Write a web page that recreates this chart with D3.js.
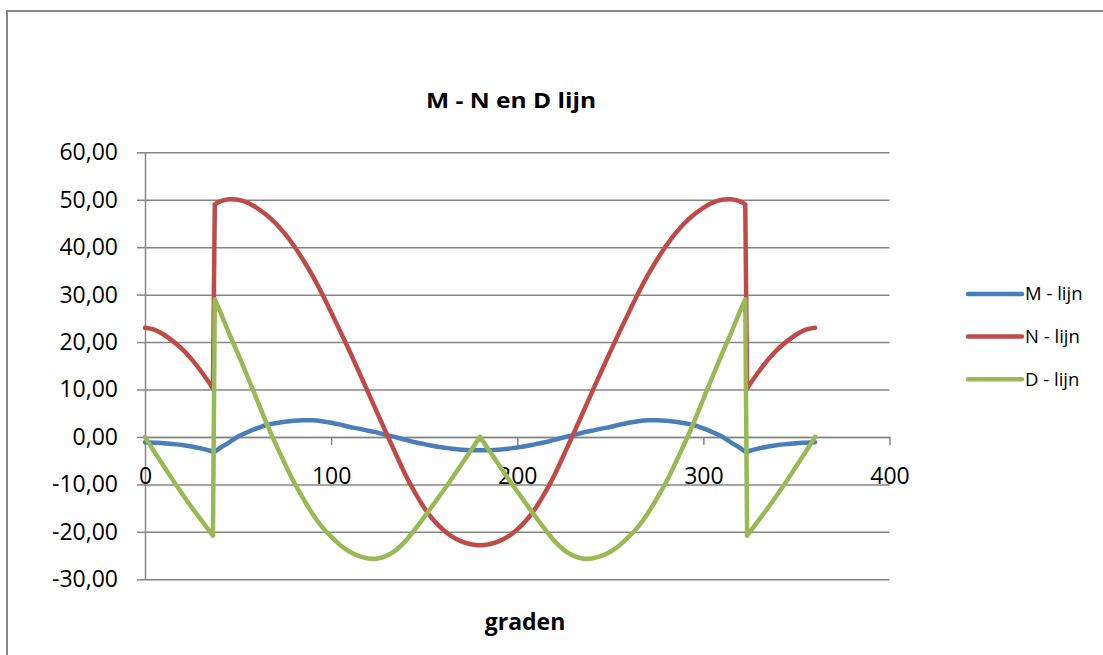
<!DOCTYPE html>
<html>
<head>
<meta charset="utf-8">
<script src="https://cdn.jsdelivr.net/npm/d3@7"></script>
<style>
  body { margin: 0; background: #fff; }
  text { font-family: "Open Sans", "Liberation Sans", sans-serif; fill: #000; }
</style>
</head>
<body>
<script>
// degrees along the ring (x values)
var graden = [0, 5, 10, 15, 20, 25, 30, 35, 36.5, 37.5, 40, 45, 50, 55, 60, 65, 70, 75, 80, 85, 90,
  95, 100, 105, 110, 115, 120, 125, 130, 135, 140, 145, 150, 155, 160, 165, 170, 175, 180,
  185, 190, 195, 200, 205, 210, 215, 220, 225, 230, 235, 240, 245, 250, 255, 260, 265, 270,
  275, 280, 285, 290, 295, 300, 305, 310, 315, 320, 322.5, 323.5, 325, 330, 335, 340, 345, 350, 355, 360];

var mLijn = [-1.1, -1.2, -1.3, -1.5, -1.7, -2.0, -2.4, -2.9, -3.1, -3.1, -2.4, -1.2, 0.1, 1.0, 1.8, 2.5, 2.9, 3.2, 3.4, 3.5, 3.5,
  3.3, 3.0, 2.6, 2.1, 1.75, 1.3, 0.9, 0.4, -0.1, -0.6, -1.1, -1.5, -1.9, -2.2, -2.5, -2.7, -2.8, -2.8,
  -2.8, -2.7, -2.5, -2.2, -1.9, -1.5, -1.1, -0.6, -0.1, 0.4, 0.9, 1.3, 1.75, 2.1, 2.6, 3.0, 3.3, 3.5,
  3.5, 3.4, 3.2, 2.9, 2.5, 1.8, 1.0, 0.1, -1.2, -2.4, -3.1, -3.1, -2.9, -2.4, -2.0, -1.7, -1.5, -1.3, -1.2, -1.1];

var nLijn = [23.0, 22.6, 21.6, 20.2, 18.5, 16.4, 13.9, 11.1, 10.2, 49.0, 49.6, 50.1, 50.0, 49.4, 48.3, 46.9, 45.1, 42.9, 40.3, 37.3, 34.0,
  30.3, 26.3, 22.2, 18.0, 13.7, 9.3, 4.9, 0.5, -3.8, -8.0, -11.7, -14.9, -17.5, -19.5, -21.0, -22.0, -22.6, -22.8,
  -22.6, -22.0, -21.0, -19.5, -17.5, -14.9, -11.7, -8.0, -3.8, 0.5, 4.9, 9.3, 13.7, 18.0, 22.2, 26.3, 30.3, 34.0,
  37.3, 40.3, 42.9, 45.1, 46.9, 48.3, 49.4, 50.0, 50.1, 49.6, 49.0, 10.2, 11.1, 13.9, 16.4, 18.5, 20.2, 21.6, 22.6, 23.0];

var dLijn = [0, -3.1, -6.1, -9.1, -12.0, -14.8, -17.4, -20.0, -20.8, 29.0, 26.8, 22.0, 17.5, 12.8, 8.0, 3.2, -1.3, -5.5, -9.5, -13.0, -16.2,
  -18.9, -21.0, -22.8, -24.2, -25.1, -25.6, -25.6, -25.0, -23.8, -21.9, -19.5, -16.9, -14.2, -11.5, -8.7, -5.8, -2.9, 0,
  -2.9, -5.8, -8.7, -11.5, -14.2, -16.9, -19.5, -21.9, -23.8, -25.0, -25.6, -25.6, -25.1, -24.2, -22.8, -21.0, -18.9, -16.2,
  -13.0, -9.5, -5.5, -1.3, 3.2, 8.0, 12.8, 17.5, 22.0, 26.8, 29.0, -20.8, -20.0, -17.4, -14.8, -12.0, -9.1, -6.1, -3.1, 0];

// degrees where a line has a sharp corner
var mKnik = [36.5, 37.5, 322.5, 323.5];
var nKnik = [36.5, 37.5, 322.5, 323.5];
var dKnik = [36.5, 37.5, 180, 322.5, 323.5];

var seriesNames = ["M - lijn", "N - lijn", "D - lijn"];
var seriesColors = ["#4a7ebb", "#be4b48", "#98b954"];
var yTicks = [-30, -20, -10, 0, 10, 20, 30, 40, 50, 60];
var xTicks = [0, 100, 200, 300, 400];

var W = 1103, H = 655;
var margin = {top: 152.3, left: 145, right: 1103 - 889.5, bottom: 655 - 579.3};

var svg = d3.select("body").append("svg")
    .attr("width", W)
    .attr("height", H);

// chart border
svg.append("rect")
    .attr("x", 7).attr("y", 11)
    .attr("width", 1110).attr("height", 700)
    .attr("fill", "none")
    .attr("stroke", "#868686")
    .attr("stroke-width", 2);

var x = d3.scaleLinear().domain([0, 400]).range([margin.left, W - margin.right]);
var y = d3.scaleLinear().domain([-30, 60]).range([H - margin.bottom, margin.top]);

var nl = d3.formatLocale({decimal: ",", thousands: ".", grouping: [3], currency: ["", ""], minus: "-"});
var fmt = nl.format(".2f");

// horizontal gridlines + y axis
var yAxis = svg.append("g")
    .attr("transform", "translate(" + margin.left + ",0)")
    .call(d3.axisLeft(y).tickValues(yTicks).tickFormat(fmt)
      .tickSizeInner(-(x.range()[1] - x.range()[0])).tickSizeOuter(0).tickPadding(27));
yAxis.select(".domain").attr("stroke", "#868686").attr("stroke-width", 1.5);
yAxis.selectAll(".tick line").attr("stroke", "#868686").attr("stroke-width", 1.5);
yAxis.selectAll(".tick")
  .append("line").attr("x1", -8).attr("x2", 0).attr("stroke", "#868686").attr("stroke-width", 1.5);
yAxis.selectAll(".tick text")
    .style("font-family", "'Open Sans', sans-serif")
    .style("font-size", "23px")
    .attr("fill", "#000");

// x axis at y = 0
var xAxis = svg.append("g")
    .attr("transform", "translate(0," + y(0) + ")")
    .call(d3.axisBottom(x).tickValues(xTicks).tickSize(8).tickSizeOuter(0).tickPadding(23));
xAxis.select(".domain").attr("stroke", "#868686").attr("stroke-width", 1.5);
xAxis.selectAll(".tick line").attr("stroke", "#868686").attr("stroke-width", 1.5);
xAxis.selectAll(".tick text")
    .style("font-family", "'Open Sans', sans-serif")
    .style("font-size", "23px")
    .attr("fill", "#000");

// smooth lines, split at the sharp corners
var line = d3.line()
    .x(function(d) { return x(d[0]); })
    .y(function(d) { return y(d[1]); })
    .curve(d3.curveCatmullRom.alpha(0.5));

function smoothPath(values, knik) {
  var pts = graden.map(function(g, i) { return [g, values[i]]; });
  var parts = [], cur = [];
  pts.forEach(function(p) {
    cur.push(p);
    if (knik.indexOf(p[0]) >= 0) { parts.push(cur); cur = [p]; }
  });
  if (cur.length > 1) parts.push(cur);
  return parts.map(function(s) { return line(s); }).join("");
}

var allSeries = [[mLijn, mKnik], [nLijn, nKnik], [dLijn, dKnik]];

svg.append("g").selectAll("path")
    .data(allSeries)
    .enter().append("path")
    .attr("d", function(d) { return smoothPath(d[0], d[1]); })
    .attr("fill", "none")
    .attr("stroke", function(d, i) { return seriesColors[i]; })
    .attr("stroke-width", 4.5)
    .attr("stroke-linejoin", "round")
    .attr("stroke-linecap", "round");

// titles
svg.append("text")
    .attr("x", 511).attr("y", 108)
    .attr("text-anchor", "middle")
    .attr("textLength", 170)
    .attr("lengthAdjust", "spacingAndGlyphs")
    .style("font-size", "22px").style("font-weight", "bold")
    .text("M - N en D lijn");

svg.append("text")
    .attr("x", 525).attr("y", 630)
    .attr("text-anchor", "middle")
    .style("font-size", "23px").style("font-weight", "bold")
    .text("graden");

// legend
var legend = svg.append("g").selectAll("g")
    .data(seriesNames)
    .enter().append("g")
    .attr("transform", function(d, i) { return "translate(968," + (294 + i * 42.6) + ")"; });
legend.append("line")
    .attr("x1", 0).attr("x2", 54)
    .attr("stroke", function(d, i) { return seriesColors[i]; })
    .attr("stroke-width", 4.5)
    .attr("stroke-linecap", "round");
legend.append("text")
    .attr("x", 57).attr("dy", "0.35em")
    .style("font-size", "18.5px")
    .text(function(d) { return d; });
</script>
</body>
</html>
